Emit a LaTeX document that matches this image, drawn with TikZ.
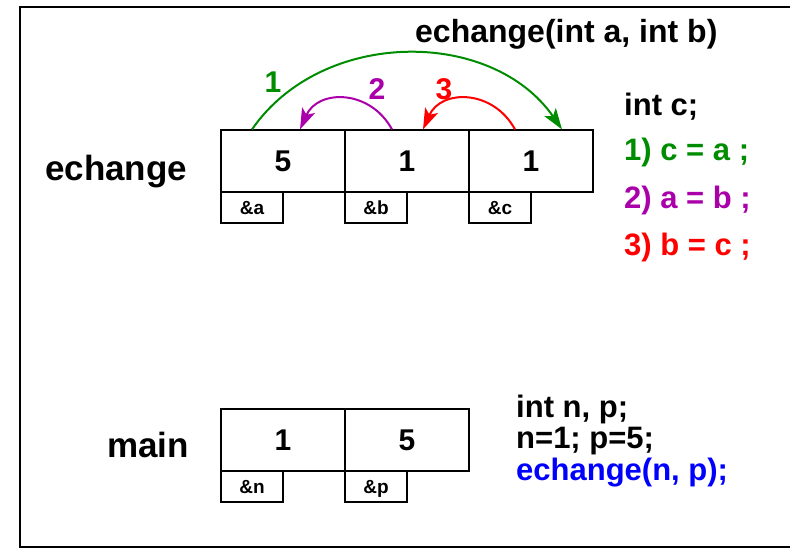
\documentclass[tikz,border=0pt]{standalone}
\usepackage{fontspec}
\setmainfont{Liberation Sans}
\usetikzlibrary{arrows.meta}
\definecolor{vert}{RGB}{0,140,0}
\definecolor{mauve}{RGB}{170,0,170}
\begin{document}
\begin{tikzpicture}[x=1pt, y=-1pt]
 \tikzset{case/.style={draw, line width=1.2pt, minimum width=124pt, minimum height=62pt, inner sep=0pt, text height=21pt, text depth=0pt, font=\fontsize{30}{36}\selectfont\bfseries}}
 \tikzset{adr/.style={draw, line width=1.2pt, minimum width=62pt, minimum height=31pt, inner sep=0pt, text height=13.5pt, text depth=0pt, font=\fontsize{19}{22}\selectfont\bfseries}}
 \tikzset{code/.style={anchor=base west, inner sep=0pt, font=\fontsize{31}{36}\selectfont\bfseries}}
 \tikzset{num/.style={font=\fontsize{30}{36}\selectfont\bfseries}}
 \tikzset{fleche/.style={-{Stealth[length=21pt, width=14pt, inset=5pt]}, line width=2pt}}
  \useasboundingbox (0,0) rectangle (790,549);
  \draw[line width=1.8pt] (20,7) rectangle (800,547);
  \node[code, font=\fontsize{35}{40}\selectfont\bfseries] (Lech) at (45,180) {echange};
  \node[code, font=\fontsize{35}{40}\selectfont\bfseries] (Lmain) at (107,457) {main};
  \node[case] (va) at (283,161) {5};
  \node[case] (vb) at (407,161) {1};
  \node[case] (vc) at (531,161) {1};
  \node[adr] (aa) at (252,207.5) {\&a};
  \node[adr] (ab) at (376,207.5) {\&b};
  \node[adr] (ac) at (500,207.5) {\&c};
  \node[case] (vn) at (283,440) {1};
  \node[case] (vp) at (407,440) {5};
  \node[adr] (an) at (252,486.5) {\&n};
  \node[adr] (ap) at (376,486.5) {\&p};
  \node[code, font=\fontsize{32}{36}\selectfont\bfseries] (T) at (415,42) {echange(int a, int b)};
  \node[code] (C0) at (624,115) {int c;};
  \node[code, vert] (C1) at (624,160) {1) c = a ;};
  \node[code, mauve] (C2) at (624,208) {2) a = b ;};
  \node[code, red] (C3) at (624,255) {3) b = c ;};
  \node[code] (M1) at (516,417) {int n, p;};
  \node[code] (M2) at (516,448) {n=1; p=5;};
  \node[code, blue] (M3) at (516,480) {echange(n, p);};
  \draw[fleche, vert] ([xshift=-31pt]va.north) .. controls (322,28) and (492,28) .. ([xshift=31pt]vc.north);
  \draw[fleche, mauve] ([xshift=-15pt]vb.north) .. controls (370,89) and (318,89) .. ([xshift=17pt]va.north);
  \draw[fleche, red] ([xshift=-16pt]vc.north) .. controls (493,89) and (441,89) .. ([xshift=16pt]vb.north);
  \node[num, vert] (N1) at (273,82) {1};
  \node[num, mauve] (N2) at (377,89) {2};
  \node[num, red] (N3) at (444,89) {3};
\end{tikzpicture}
\end{document}
